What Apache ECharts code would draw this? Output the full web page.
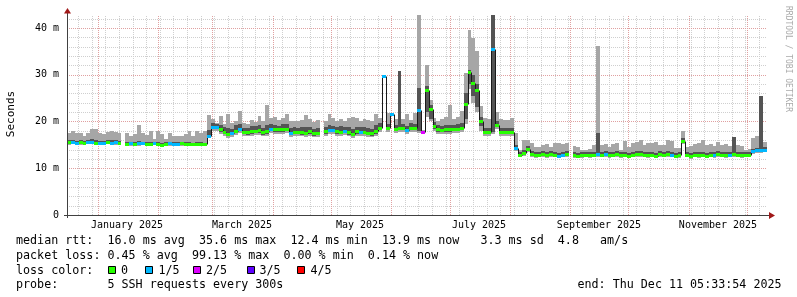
<!DOCTYPE html>
<html><head><meta charset="utf-8">
<script src="https://cdn.jsdelivr.net/npm/echarts@6/dist/echarts.min.js"></script>
<style>html,body{margin:0;padding:0;background:#fff}#c{width:797px;height:297px}</style>
</head><body><div id="c"></div>
<script>
// ---- time range (360 days, 2-day consolidation steps) ----
const START = new Date(2024, 11, 16, 5, 33, 54).getTime();
const END = new Date(2025, 11, 11, 5, 33, 54).getTime();
const STEP = 2 * 86400000;
const Y_MAX = 42.78;

// ---- values in milliseconds (one entry per 2-day step, null = no data) ----
const medianMs = [
15.6,15.6,15.4,15.6,15.5,15.6,15.7,15.5,15.5,15.5,15.6,15.5,15.6,15.5,null,15.2,15.3,15.2,15.3,15.3,15.2,15.2,15.3,15.2,15.0,15.2,15.3,15.2,15.2,15.3,15.2,15.2,15.1,15.2,15.2,15.1,17.0,
18.8,18.8,18.3,17.8,17.3,17.6,18.0,18.5,17.8,17.7,17.9,18.0,18.1,17.7,17.9,18.5,18.3,18.3,18.3,18.5,17.6,17.8,17.8,17.7,17.6,17.9,17.5,17.6,null,17.9,18.2,18.2,17.9,17.8,18.0,17.7,17.3,17.9,17.8,17.8,17.6,17.5,17.9,18.6,29.7,
18.6,21.6,18.4,18.7,18.6,18.2,18.7,18.6,22.4,17.8,26.8,22.7,19.0,18.3,18.2,18.3,18.3,18.4,18.4,18.7,23.7,30.6,28.2,26.8,20.0,17.8,17.8,35.6,19.3,17.8,17.8,17.8,17.8,14.3,
12.9,13.3,14.1,13.0,12.8,12.9,13.0,12.8,13.0,12.9,12.7,12.9,13.0,null,12.8,12.7,12.8,12.9,12.8,12.9,13.1,12.9,13.1,12.8,12.9,13.0,12.8,12.9,12.7,12.9,13.0,13.1,12.9,12.8,12.9,12.7,13.0,12.9,13.1,12.9,12.7,12.8,15.9,12.9,12.6,12.9,12.8,12.9,12.7,12.9,12.8,13.0,12.9,12.8,12.9,13.0,12.9,12.8,12.9,12.9,13.6,13.8,13.9,14.0
];
const smokeHigh = [
17.5,18.0,17.5,17.6,17.0,17.5,18.4,18.3,17.6,17.4,17.8,17.9,17.7,17.5,null,17.5,17.0,17.4,19.3,17.6,17.2,18.0,16.3,18.0,17.4,16.2,17.6,16.8,16.9,17.0,17.3,18.0,16.8,18.0,17.5,18.0,21.3,
20.5,19.7,21.2,19.5,21.5,19.6,20.2,22.3,19.7,19.4,20.3,19.8,21.1,20.2,23.6,20.8,21.0,20.4,20.7,21.6,20.0,20.2,20.0,20.4,21.3,20.5,19.9,20.3,null,20.0,21.5,20.8,20.2,20.6,20.0,20.7,20.9,20.7,20.2,20.6,20.3,20.0,21.5,20.8,29.9,
21.8,21.8,20.5,30.9,20.5,21.7,20.3,21.8,42.8,18.1,32.0,24.5,20.7,20.0,20.6,21.0,23.6,20.6,20.9,22.2,30.4,39.6,37.9,35.0,23.3,20.7,20.5,42.8,22.1,20.6,20.3,20.4,20.7,17.5,
14.0,16.1,16.0,15.5,14.6,14.6,15.0,15.2,14.6,15.4,15.3,15.1,15.5,null,14.8,14.6,14.0,14.0,14.1,15.0,36.1,15.0,15.2,14.6,15.2,15.3,14.0,15.8,14.6,15.4,15.6,16.0,15.0,15.4,15.3,15.6,15.0,14.9,16.0,15.8,14.4,14.3,17.9,14.5,14.8,15.1,15.4,16.0,15.0,15.2,14.8,15.6,14.9,15.2,14.8,16.6,15.0,14.8,14.0,14.2,16.5,16.8,25.5,15.6
];
const smokeLow = [
15.0,15.1,14.9,15.0,15.0,15.1,15.1,15.0,14.9,15.0,15.1,15.0,15.0,15.0,null,14.8,14.8,14.7,14.8,14.9,14.7,14.8,14.9,14.8,14.6,14.8,14.8,14.7,14.8,14.8,14.7,14.8,14.7,14.8,14.7,14.7,16.5,
17.9,17.9,17.4,16.8,16.4,16.7,17.1,17.5,16.9,16.8,17.0,17.1,17.2,16.8,17.0,17.6,17.4,17.4,17.3,17.5,16.7,16.9,16.9,16.8,16.7,17.0,16.6,16.7,null,17.0,17.3,17.3,17.0,16.9,17.1,16.8,16.4,17.0,16.9,16.9,16.7,16.6,17.0,17.7,29.5,
17.7,21.3,17.5,17.8,17.7,17.3,17.8,17.7,17.6,17.5,21.0,20.0,18.0,17.4,17.3,17.4,17.4,17.5,17.5,17.8,19.5,27.0,24.0,22.0,18.0,16.9,16.9,17.4,18.3,16.9,16.9,16.9,16.9,13.6,
12.3,12.7,13.4,12.4,12.2,12.3,12.4,12.2,12.4,12.3,12.1,12.3,12.4,null,12.2,12.1,12.2,12.3,12.2,12.3,12.4,12.3,12.4,12.2,12.3,12.4,12.2,12.3,12.1,12.3,12.4,12.4,12.3,12.2,12.3,12.1,12.4,12.3,12.4,12.3,12.1,12.2,15.2,12.3,12.0,12.3,12.2,12.3,12.1,12.3,12.2,12.4,12.3,12.2,12.3,12.4,12.3,12.2,12.3,12.3,13.0,13.2,13.3,13.4
];
const darkLow = [
15.3,15.3,15.1,15.3,15.2,15.3,15.4,15.2,15.2,15.2,15.3,15.2,15.3,15.2,null,14.9,15.0,14.9,15.0,15.0,14.9,14.9,15.0,14.9,14.8,14.9,15.0,14.9,14.9,15.0,14.9,14.9,14.8,14.9,14.9,14.8,16.7,
18.3,18.3,17.8,17.3,16.8,17.1,17.5,18.0,17.3,17.2,17.4,17.5,17.6,17.2,17.4,18.0,17.8,17.8,17.8,18.0,17.1,17.3,17.3,17.2,17.1,17.4,17.0,17.1,null,17.4,17.7,17.7,17.4,17.3,17.5,17.2,16.8,17.4,17.3,17.3,17.1,17.0,17.4,18.1,29.6,
18.1,21.4,17.9,18.2,18.1,17.7,18.2,18.1,18.0,17.6,22.0,20.5,18.5,17.8,17.7,17.8,17.8,17.9,17.9,18.2,20.5,28.0,25.5,23.0,19.0,17.3,17.3,17.8,18.8,17.3,17.3,17.3,17.3,13.9,
12.6,12.9,13.7,12.7,12.5,12.6,12.7,12.5,12.7,12.6,12.4,12.6,12.7,null,12.5,12.4,12.5,12.6,12.5,12.6,12.8,12.6,12.8,12.5,12.6,12.7,12.5,12.6,12.4,12.6,12.7,12.8,12.6,12.5,12.6,12.4,12.7,12.6,12.8,12.6,12.4,12.5,15.5,12.6,12.3,12.6,12.5,12.6,12.4,12.6,12.5,12.7,12.6,12.5,12.6,12.7,12.6,12.5,12.6,12.6,13.3,13.5,13.6,13.7
];
const darkHigh = [
16.0,16.1,15.9,16.0,15.9,16.1,16.2,16.0,15.9,15.9,16.1,16.0,16.0,15.9,null,15.6,15.7,15.6,15.8,15.7,15.6,15.6,15.7,15.6,15.4,15.6,15.7,15.6,15.6,15.7,15.6,15.6,15.5,15.6,15.6,15.5,18.2,
19.6,19.5,19.3,18.8,18.6,18.5,19.2,19.4,18.7,18.6,19.0,19.0,19.3,18.7,19.2,19.4,19.3,19.1,19.4,19.5,18.6,18.8,18.7,18.8,18.9,18.9,18.5,18.7,null,18.8,19.3,19.1,18.9,19.0,18.9,18.8,18.5,18.9,18.8,18.9,18.6,18.5,19.3,19.6,29.8,
19.5,21.7,19.3,30.9,19.5,19.1,19.6,19.5,27.2,18.0,27.5,23.5,19.8,19.2,19.1,19.2,19.3,19.3,19.4,19.6,26.0,31.0,30.0,28.0,21.0,18.6,18.6,42.8,20.2,18.6,18.6,18.7,18.6,15.0,
13.5,13.9,14.7,13.6,13.4,13.5,13.6,13.4,13.6,13.5,13.3,13.5,13.6,null,13.4,13.3,13.4,13.5,13.4,13.5,17.5,13.5,13.7,13.4,13.5,13.6,13.4,13.5,13.3,13.5,13.6,13.7,13.5,13.4,13.5,13.3,13.6,13.5,13.7,13.5,13.3,13.4,16.5,13.5,13.2,13.5,13.4,13.5,13.3,13.5,13.4,13.6,13.5,13.4,13.5,16.6,13.5,13.4,13.5,13.5,14.2,14.4,25.5,14.6
];
// loss level per step: 0 = 0, 1 = 1/5, 2 = 2/5, 3 = 3/5, 4 = 4/5
const lossLevel = [
0,1,1,0,0,1,1,0,1,1,0,1,1,0,null,0,1,0,1,1,0,0,1,0,0,0,1,1,1,0,0,0,0,0,0,0,1,
1,1,0,0,0,1,0,1,0,0,0,0,0,0,0,1,0,0,0,0,1,0,0,0,0,0,0,0,null,0,1,1,0,0,1,0,0,0,1,0,0,0,0,0,1,
0,1,0,0,0,1,0,0,1,2,0,0,0,0,0,0,0,0,0,0,0,0,0,0,0,0,0,1,0,0,0,0,0,1,
0,0,0,0,0,0,0,0,0,0,1,1,0,null,0,0,0,0,0,0,1,0,1,0,0,0,0,0,0,0,0,0,0,0,0,0,0,0,0,1,0,0,0,0,0,0,0,0,0,0,1,0,0,0,1,0,0,0,0,0,1,1,1,1
];
const lossNames = ['0', '1/5', '2/5', '3/5', '4/5'];
const lossColors = ['#26ff00', '#00b8ff', '#dd00ff', '#5e00ff', '#ff0000'];

// ---- axes / ticks ----
const monthStarts = [[2025,0],[2025,1],[2025,2],[2025,3],[2025,4],[2025,5],[2025,6],[2025,7],[2025,8],[2025,9],[2025,10],[2025,11]];
const monthLabels = [[2025,0,'January 2025'],[2025,2,'March 2025'],[2025,4,'May 2025'],[2025,6,'July 2025'],[2025,8,'September 2025'],[2025,10,'November 2025']];
const firstSunday = [2024, 11, 22];
const yMajor = [10, 20, 30, 40];
const yMinor = [2,4,6,8,12,14,16,18,22,24,26,28,32,34,36,38,42];

const weekTicks = [];
for (let d = new Date(firstSunday[0], firstSunday[1], firstSunday[2]); d.getTime() < END; d = new Date(d.getFullYear(), d.getMonth(), d.getDate() + 7)) weekTicks.push(d.getTime());
const monthTicks = monthStarts.map(m => new Date(m[0], m[1], 1).getTime());
const labelTicks = monthLabels.map(m => new Date(m[0], m[1], 16).getTime());

const tAt = i => START + i * STEP;
const valid = [];
medianMs.forEach((v, i) => { if (v !== null) valid.push(i); });

const MONO = '"DejaVu Sans Mono", monospace';
const GL = 67, GT = 15, GR = 767, GB = 215;

function rectBetween(api, t0, t1, lo, hi, fill) {
  const a = api.coord([t0, hi]), b = api.coord([t1, lo]);
  const x0 = Math.round(a[0]), x1 = Math.round(b[0]);
  const y0 = Math.round(a[1]), y1 = Math.round(b[1]);
  return { type: 'rect', shape: { x: x0, y: y0, width: Math.max(1, x1 - x0), height: Math.max(1, y1 - y0) }, style: { fill: fill } };
}

const chart = echarts.init(document.getElementById('c'), null, { renderer: 'canvas' });
const option = {
  animation: false,
  backgroundColor: '#ffffff',
  grid: { left: GL, top: GT, right: 797 - GR, bottom: 297 - GB, containLabel: false },
  xAxis: { type: 'time', min: START, max: END, show: false },
  yAxis: {
    type: 'value', min: 0, max: Y_MAX, interval: 10,
    axisLine: { show: false }, axisTick: { show: false }, splitLine: { show: false },
    axisLabel: { show: true, showMaxLabel: false, margin: 8, color: '#000', fontFamily: MONO, fontSize: 10,
      formatter: v => (v === 0 ? '0' : v + ' m') }
  },
  series: [
    // minor grid (vertical weeks)
    { type: 'custom', z: 1, silent: true, clip: false,
      data: weekTicks.map(t => [t, 0]),
      renderItem: (p, api) => {
        const a = api.coord([api.value(0), 0]), b = api.coord([api.value(0), Y_MAX]);
        const x = Math.round(a[0]) + 0.5;
        return { type: 'line', shape: { x1: x, y1: a[1], x2: x, y2: b[1] }, style: { stroke: '#cfcfcf', lineWidth: 1, lineDash: [1, 1] } };
      } },
    // minor grid (horizontal)
    { type: 'custom', z: 1, silent: true, clip: false,
      data: yMinor.map(v => [START, v]),
      renderItem: (p, api) => {
        const a = api.coord([START, api.value(1)]), b = api.coord([END, api.value(1)]);
        const y = Math.round(a[1]) + 0.5;
        return { type: 'line', shape: { x1: a[0], y1: y, x2: b[0], y2: y }, style: { stroke: '#cfcfcf', lineWidth: 1, lineDash: [1, 1] } };
      } },
    // major grid (months)
    { type: 'custom', z: 1, silent: true, clip: false,
      data: monthTicks.map(t => [t, 0]),
      renderItem: (p, api) => {
        const a = api.coord([api.value(0), 0]), b = api.coord([api.value(0), Y_MAX]);
        const x = Math.round(a[0]) + 0.5;
        return { type: 'line', shape: { x1: x, y1: a[1], x2: x, y2: b[1] }, style: { stroke: '#e0a0a0', lineWidth: 1, lineDash: [1, 1] } };
      } },
    // major grid (horizontal)
    { type: 'custom', z: 1, silent: true, clip: false,
      data: yMajor.map(v => [START, v]),
      renderItem: (p, api) => {
        const a = api.coord([START, api.value(1)]), b = api.coord([END, api.value(1)]);
        const y = Math.round(a[1]) + 0.5;
        return { type: 'line', shape: { x1: a[0], y1: y, x2: b[0], y2: y }, style: { stroke: '#e0a0a0', lineWidth: 1, lineDash: [1, 1] } };
      } },
    // month labels
    { type: 'custom', z: 1, silent: true, clip: false,
      data: labelTicks.map(t => [t, 0]),
      renderItem: (p, api) => {
        const a = api.coord([api.value(0), 0]);
        return { type: 'text', x: Math.round(a[0]), y: a[1] + 10,
          style: { text: monthLabels[p.dataIndex][2], font: '10px ' + MONO, fill: '#000', align: 'center', verticalAlign: 'middle' } };
      } },
    // outer smoke
    { type: 'custom', z: 2, silent: true, clip: true,
      data: valid.map(i => [tAt(i), smokeLow[i], tAt(i) + STEP, smokeHigh[i]]),
      encode: { x: [0, 2], y: [1, 3] },
      renderItem: (p, api) => rectBetween(api, api.value(0), api.value(2), api.value(1), api.value(3), '#a6a6a6') },
    // inner smoke
    { type: 'custom', z: 3, silent: true, clip: true,
      data: valid.map(i => [tAt(i), darkLow[i], tAt(i) + STEP, darkHigh[i]]),
      encode: { x: [0, 2], y: [1, 3] },
      renderItem: (p, api) => rectBetween(api, api.value(0), api.value(2), api.value(1), api.value(3), '#545454') },
    // median step line
    { type: 'custom', z: 4, silent: true, clip: true,
      data: valid.map(i => [tAt(i), medianMs[i]]),
      renderItem: (p, api) => {
        const i = valid[p.dataIndex];
        const a = api.coord([tAt(i), medianMs[i]]), b = api.coord([tAt(i) + STEP, medianMs[i]]);
        const y = Math.round(a[1]) + 0.5;
        const kids = [{ type: 'line', shape: { x1: Math.round(a[0]), y1: y, x2: Math.round(b[0]), y2: y }, style: { stroke: '#1a1a1a', lineWidth: 1 } }];
        if (i + 1 < medianMs.length && medianMs[i + 1] !== null) {
          const c = api.coord([tAt(i + 1), medianMs[i + 1]]);
          const x = Math.round(c[0]) + 0.5;
          kids.push({ type: 'line', shape: { x1: x, y1: y, x2: x, y2: Math.round(c[1]) + 0.5 }, style: { stroke: '#1a1a1a', lineWidth: 1 } });
        }
        return { type: 'group', children: kids };
      } },
    // median loss-coloured marks
    { type: 'custom', z: 5, silent: true, clip: true,
      data: valid.map(i => [tAt(i), medianMs[i], tAt(i) + STEP]),
      encode: { x: [0, 2], y: 1 },
      renderItem: (p, api) => {
        const i = valid[p.dataIndex];
        const a = api.coord([api.value(0), api.value(1)]), b = api.coord([api.value(2), api.value(1)]);
        const x0 = Math.round(a[0]), x1 = Math.round(b[0]), y = Math.round(a[1]);
        return { type: 'rect', shape: { x: x0, y: y - 1, width: Math.max(1, x1 - x0), height: 3 }, style: { fill: lossColors[lossLevel[i]] } };
      } }
  ],
  graphic: [
    // axes
    { type: 'line', z: 100, shape: { x1: GL + 0.5, y1: GB + 3, x2: GL + 0.5, y2: GT - 2 }, style: { stroke: '#404040', lineWidth: 1 } },
    { type: 'line', z: 100, shape: { x1: GL - 3, y1: GB + 0.5, x2: GR + 3, y2: GB + 0.5 }, style: { stroke: '#404040', lineWidth: 1 } },
    { type: 'polygon', z: 101, shape: { points: [[GL - 3, GT - 1.5], [GL + 4, GT - 1.5], [GL + 0.5, GT - 7]] }, style: { fill: '#a01818' } },
    { type: 'polygon', z: 101, shape: { points: [[GR + 2, GB - 3], [GR + 2, GB + 4], [GR + 8, GB + 0.5]] }, style: { fill: '#a01818' } },
    // vertical titles
    { type: 'text', z: 100, x: 11, y: 114, rotation: Math.PI / 2,
      style: { text: 'Seconds', font: '11px ' + MONO, fill: '#000', align: 'center', verticalAlign: 'middle' } },
    { type: 'text', z: 100, x: 788, y: 59, rotation: -Math.PI / 2,
      style: { text: 'RRDTOOL / TOBI OETIKER', font: '8px ' + MONO, fill: '#aaaaaa', align: 'center', verticalAlign: 'middle' } },
    // legend
    { type: 'text', z: 100, x: 16, y: 241, style: { text: 'median rtt:  16.0 ms avg  35.6 ms max  12.4 ms min  13.9 ms now   3.3 ms sd  4.8   am/s', font: '11.7px ' + MONO, fill: '#000', verticalAlign: 'middle' } },
    { type: 'text', z: 100, x: 16, y: 255.5, style: { text: 'packet loss: 0.45 % avg  99.13 % max  0.00 % min  0.14 % now', font: '11.7px ' + MONO, fill: '#000', verticalAlign: 'middle' } },
    { type: 'text', z: 100, x: 16, y: 270.5, style: { text: 'loss color:', font: '11.7px ' + MONO, fill: '#000', verticalAlign: 'middle' } },
    { type: 'text', z: 100, x: 16, y: 284.5, style: { text: 'probe:       5 SSH requests every 300s', font: '11.7px ' + MONO, fill: '#000', verticalAlign: 'middle' } },
    { type: 'text', z: 100, x: 577.5, y: 284.5, style: { text: 'end: Thu Dec 11 05:33:54 2025', font: '11.7px ' + MONO, fill: '#000', verticalAlign: 'middle' } }
  ].concat(lossNames.map((name, k) => {
    const bx = [108.5, 145.5, 193.5, 247.5, 297.5][k];
    const tx = [121, 158.5, 206, 259.5, 310.5][k];
    return { type: 'group', z: 100, children: [
      { type: 'rect', shape: { x: bx, y: 266.5, width: 7, height: 7 }, style: { fill: lossColors[k], stroke: '#000', lineWidth: 1 } },
      { type: 'text', x: tx, y: 270.5, style: { text: name, font: '11.7px ' + MONO, fill: '#000', verticalAlign: 'middle' } }
    ] };
  }))
};
chart.setOption(option);
</script>
</body></html>
